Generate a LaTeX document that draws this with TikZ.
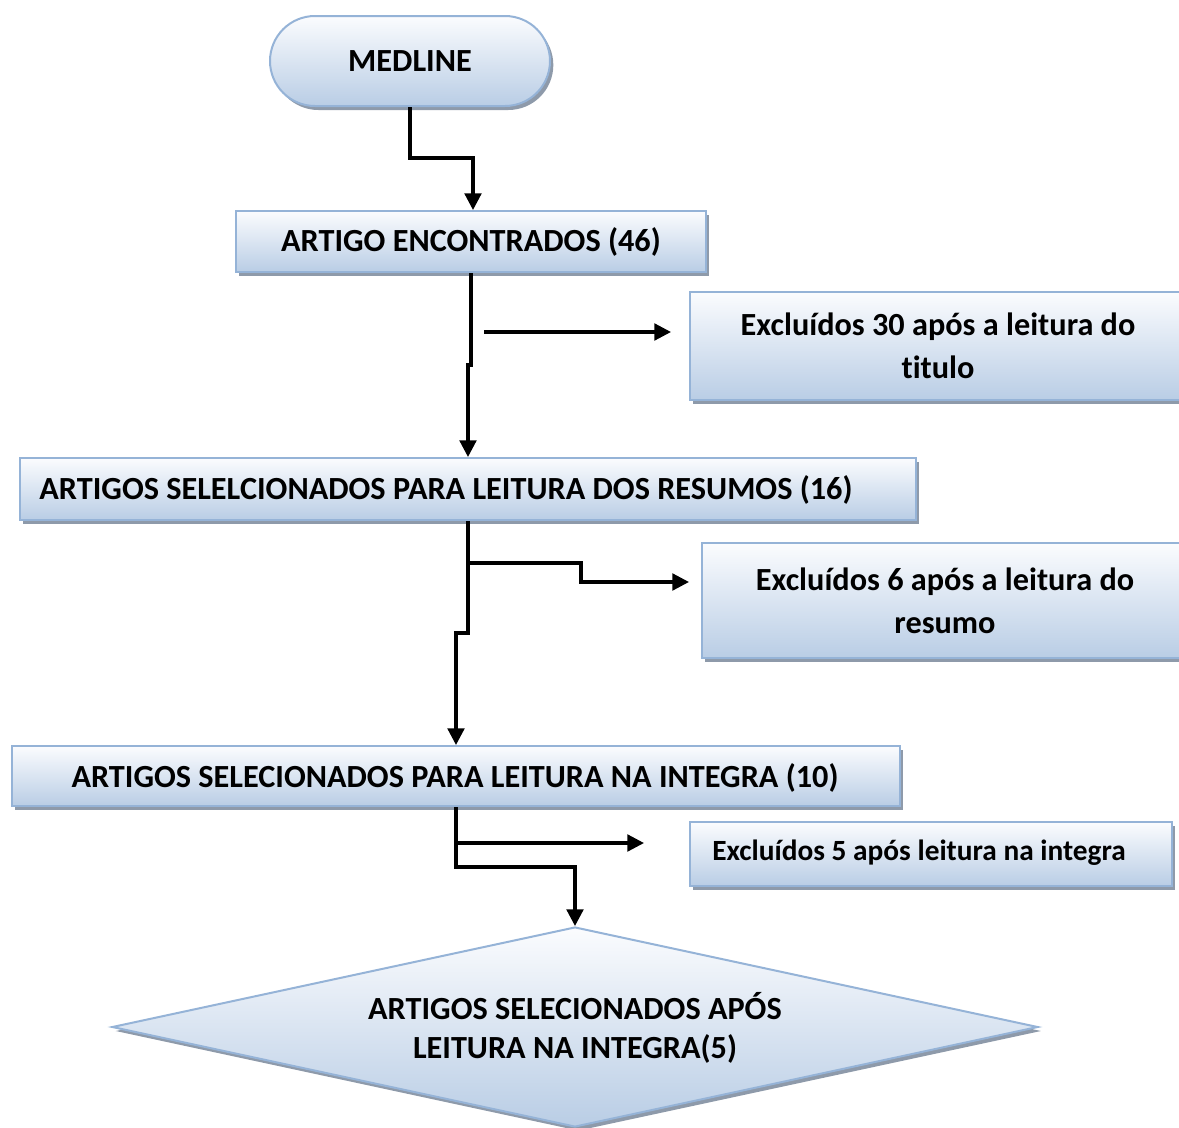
\documentclass[tikz,border=0pt]{standalone}
\usepackage{fontspec}
\setmainfont{Carlito}[Ligatures={NoCommon}]
\usetikzlibrary{shapes.geometric,shapes.misc,shadows,arrows.meta}
\definecolor{bordc}{RGB}{149,179,215}
\definecolor{botc}{RGB}{185,205,229}
\definecolor{topc}{RGB}{251,252,254}
\definecolor{shadc}{RGB}{142,154,170}
\begin{document}
\begin{tikzpicture}[x=0.75pt,y=-0.75pt,
  boxstyle/.style={draw=bordc, line width=1.5pt, top color=topc, bottom color=botc,
    general shadow={fill=shadc, shadow xshift=2.5pt, shadow yshift=-3pt},
    inner sep=0pt, font=\fontsize{24.2}{32}\selectfont\bfseries, align=center},
  lbl/.style={font=\fontsize{24.2}{32}\selectfont\bfseries, align=center, inner sep=0pt},
  arr/.style={line width=2.4pt, -{Triangle[length=12.5pt,width=12.5pt]}}]
\useasboundingbox (0,0) rectangle (1179,1128);
\clip (0,0) rectangle (1179,1128);

\node[boxstyle, rounded rectangle, minimum width=210pt, minimum height=67.5pt] (med) at (410,61) {MEDLINE};
\node[boxstyle, minimum width=352.5pt, minimum height=45.75pt] (b2) at (471,241.5) {ARTIGO ENCONTRADOS (46)};
\node[boxstyle, minimum width=372pt, minimum height=81pt] (b3) at (938,346) {Excluídos 30 após a leitura do\\titulo};
\node[boxstyle, minimum width=672pt, minimum height=46.5pt] (b4) at (468,489) {};
\node[lbl] (t4) at (446,490) {ARTIGOS SELELCIONADOS PARA LEITURA DOS RESUMOS (16)};
\node[boxstyle, minimum width=364.5pt, minimum height=86.25pt] (b5) at (945,600.5) {Excluídos 6 após a leitura do\\resumo};
\node[boxstyle, minimum width=666pt, minimum height=45pt] (b6) at (456,776) {};
\node[lbl] (t6) at (455,778) {ARTIGOS SELECIONADOS PARA LEITURA NA INTEGRA (10)};
\node[boxstyle, minimum width=361.5pt, minimum height=48pt] (b7) at (931,854) {};
\node[lbl, font=\fontsize{22}{28}\selectfont\bfseries] (t7) at (919,853) {Excluídos 5 após leitura na integra};
\node[boxstyle, diamond, minimum width=694.5pt, minimum height=150pt] (dia) at (575,1027) {};
\node[lbl, font=\fontsize{24.2}{29}\selectfont\bfseries] (td) at (575,1028) {ARTIGOS SELECIONADOS APÓS\\LEITURA NA INTEGRA(5)};

\draw[arr] (med.south) -- ++(0,51) -| ([xshift=1.5pt]b2.north);
\draw[arr] (b2.south) -- ++(0,92) -| (b4.north);
\coordinate (e1) at (484,332);
\draw[arr, shorten >=13.5pt] (e1) -- (e1 -| b3.west);
\draw[arr] (b4.south) -- ++(0,112) -| (b6.north);
\coordinate (j1) at (468,563);
\coordinate (k1) at (581,582);
\draw[arr, shorten >=9pt] (j1) -| (k1) -- (k1 -| b5.west);
\draw[arr] (b6.south) -- ++(0,60) -| (dia.north);
\coordinate (j2) at (456,843);
\draw[arr, shorten >=33.75pt] (j2) -- (j2 -| b7.west);
\end{tikzpicture}
\end{document}
